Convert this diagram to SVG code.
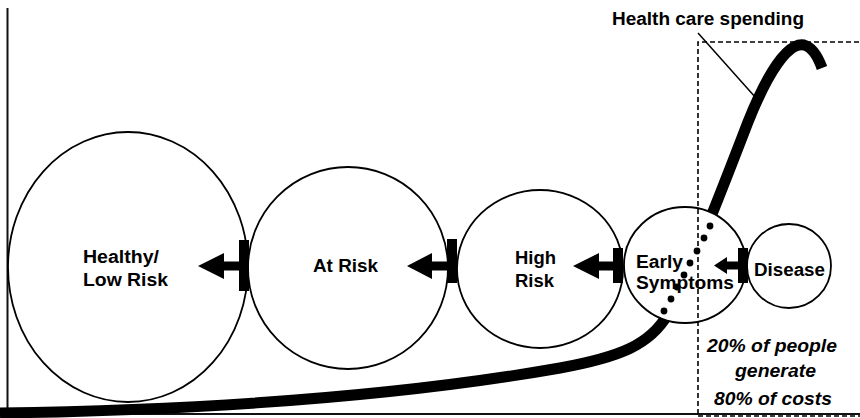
<svg xmlns="http://www.w3.org/2000/svg" width="860" height="418" viewBox="0 0 860 418">
  <style>
    .stage { fill: #fff; stroke: #000; stroke-width: 1.8; }
    .lbl { font-family: "Liberation Sans", Arial, sans-serif; font-weight: bold; font-size: 18px; fill: #000; }
    .note { font-family: "Liberation Sans", Arial, sans-serif; font-weight: bold; font-style: italic; font-size: 18px; fill: #000; }
    .axis { stroke: #111; stroke-width: 2; fill: none; }
    .dash { stroke: #000; stroke-width: 1.6; stroke-dasharray: 5 3; fill: none; }
    .push { fill: #000; }
  </style>
  <rect width="860" height="418" fill="#fff"/>

  <!-- axes -->
  <g id="axes">
    <line class="axis" x1="7.5" y1="8" x2="7.5" y2="415"/>
    <line class="axis" x1="7" y1="414" x2="860" y2="414"/>
  </g>

  <!-- spending curve, drawn beneath the stage circles -->
  <g id="spending-curve">
    <path d="M0,413 C200,410 400,396 560,368 C620,357 650,345 668,314 C690,272 718,200 748,122 C768,72 788,42 804,45 C812,47 818,57 822,68" fill="none" stroke="#000" stroke-width="11"/>
  </g>

  <!-- stage circles -->
  <g id="healthy">
    <ellipse class="stage" cx="128" cy="267" rx="120" ry="135"/>
    <text class="lbl" x="83" y="263" textLength="76" lengthAdjust="spacingAndGlyphs">Healthy/</text>
    <text class="lbl" x="83" y="286" textLength="85" lengthAdjust="spacingAndGlyphs">Low Risk</text>
  </g>
  <g id="at-risk">
    <ellipse class="stage" cx="348" cy="268" rx="100" ry="101"/>
    <text class="lbl" x="313" y="272" textLength="65" lengthAdjust="spacingAndGlyphs">At Risk</text>
  </g>
  <g id="high-risk">
    <ellipse class="stage" cx="540" cy="269" rx="83" ry="79"/>
    <text class="lbl" x="515" y="264" textLength="41" lengthAdjust="spacingAndGlyphs">High</text>
    <text class="lbl" x="515" y="287" textLength="39" lengthAdjust="spacingAndGlyphs">Risk</text>
  </g>
  <g id="early-symptoms">
    <ellipse class="stage" cx="685" cy="265" rx="61" ry="58"/>
    <text class="lbl" x="636" y="268" textLength="47" lengthAdjust="spacingAndGlyphs">Early</text>
    <text class="lbl" x="636" y="289" textLength="98" lengthAdjust="spacingAndGlyphs">Symptoms</text>
  </g>
  <g id="disease">
    <ellipse class="stage" cx="789" cy="266" rx="42" ry="42"/>
    <text class="lbl" x="754" y="276" textLength="71" lengthAdjust="spacingAndGlyphs">Disease</text>
  </g>

  <!-- dotted continuation of the curve through the early-symptoms stage -->
  <g id="curve-dots" fill="#000">
    <circle cx="710" cy="226" r="3.4"/>
    <circle cx="704" cy="238" r="3.4"/>
    <circle cx="697" cy="251" r="3.4"/>
    <circle cx="690" cy="263" r="3.4"/>
    <circle cx="684" cy="275" r="3.4"/>
    <circle cx="677" cy="287" r="3.4"/>
    <circle cx="671" cy="299" r="3.4"/>
    <circle cx="664" cy="311" r="3.4"/>
  </g>

  <!-- 80/20 region -->
  <g id="cost-region">
    <polyline class="dash" points="698,414 698,42 860,42"/>
    <line class="dash" x1="698" y1="416" x2="860" y2="416" stroke-dasharray="3 2" stroke-width="1.2"/>
    <text class="note" x="707" y="352" textLength="130" lengthAdjust="spacingAndGlyphs">20% of people</text>
    <text class="note" x="735" y="377" textLength="81" lengthAdjust="spacingAndGlyphs">generate</text>
    <text class="note" x="714" y="405" textLength="118" lengthAdjust="spacingAndGlyphs">80% of costs</text>
  </g>

  <g id="spending-label">
    <text class="lbl" x="612" y="25" textLength="192" lengthAdjust="spacingAndGlyphs">Health care spending</text>
    <line x1="698" y1="33" x2="756" y2="98" stroke="#000" stroke-width="1.5"/>
  </g>

  <g id="connectors">
    <!-- stage transitions: bar on the shared boundary, arrow pointing back -->
    <path class="push" d="M239,240 H249 V291 H239 V270.5 H224 V279 L198,266 L224,253 V261.5 H239 Z"/>
    <path class="push" d="M447,239 H457 V283 H447 V270.5 H432 V279 L407,266 L432,253 V261.5 H447 Z"/>
    <path class="push" d="M613,248 H623 V283 H613 V270.5 H599 V279 L573,266 L599,253 V261.5 H613 Z"/>
    <path class="push" d="M738,248 H748 V283 H738 V269.5 H727 V274 L714,265.5 L727,257 V261.5 H738 Z"/>
  </g>
</svg>
